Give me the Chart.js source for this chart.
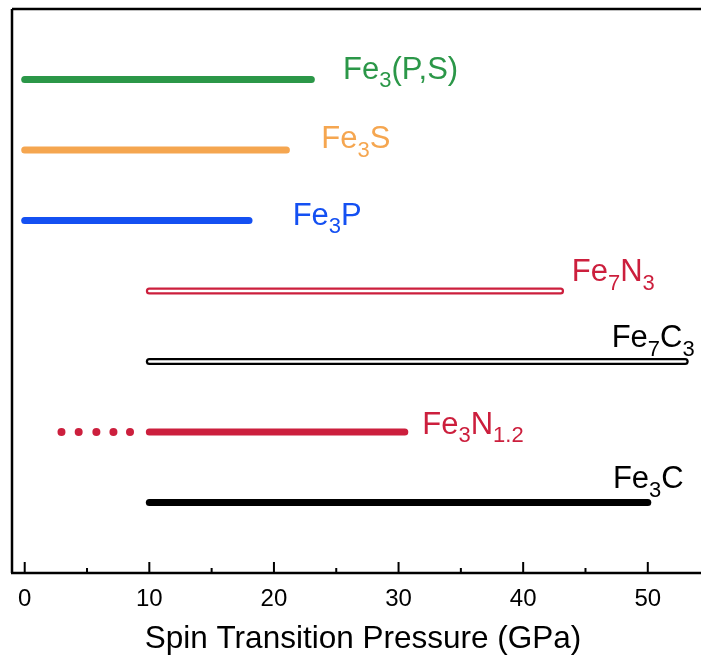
<!DOCTYPE html>
<html>
<head>
<meta charset="utf-8">
<script src="https://cdn.jsdelivr.net/npm/chart.js@4/dist/chart.umd.min.js"></script>
<style>
  html, body { margin: 0; padding: 0; background: #fff; overflow: hidden; }
  #spinChart { display: block; }
</style>
</head>
<body>
<canvas id="spinChart" width="701" height="655"></canvas>
<script>
// Daten - von unten nach oben (y = 1 .. 7)
const categories = ['Fe3C', 'Fe3N1.2', 'Fe7C3', 'Fe7N3', 'Fe3P', 'Fe3S', 'Fe3(P,S)'];
const startP = [10, 10, 10, 10, 0, 0, 0];
const endP = [50, 30.5, 53, 43, 18, 21, 23];
// gepunktete Verlängerung von Fe3N1.2
const dottedP = [2.95, 4.33, 5.75, 7.12, 8.45];
const xTicks = [0, 10, 20, 30, 40, 50];
const xMinorTicks = [5, 15, 25, 35, 45];

// Beschriftungen: Textteile [text, tiefgestellt]
const labelParts = [
    [['Fe', 0], ['3', 1], ['C', 0]],
    [['Fe', 0], ['3', 1], ['N', 0], ['1.2', 1]],
    [['Fe', 0], ['7', 1], ['C', 0], ['3', 1]],
    [['Fe', 0], ['7', 1], ['N', 0], ['3', 1]],
    [['Fe', 0], ['3', 1], ['P', 0]],
    [['Fe', 0], ['3', 1], ['S', 0]],
    [['Fe', 0], ['3', 1], ['(P,S)', 0]]
];

// Stil
const colors = ['#000000', '#cc1f3d', '#000000', '#cc1f3d', '#1450f2', '#f5a650', '#2b9748'];
const hollow = [false, false, true, true, false, false, false];
const labelX = [47.2, 31.9, 47.1, 43.9, 21.5, 23.8, 25.55];   // GPa
const labelDy = [-14.4, 1.7, -14.5, -10, 4, -1.6, -1];        // px, Grundlinie relativ zum Balken
const FONT = '"Liberation Sans", Arial, sans-serif';

const datasets = [];
categories.forEach(function(name, i) {
    const pts = [{ x: startP[i], y: i + 1 }, { x: endP[i], y: i + 1 }];
    datasets.push({
        label: name,
        data: pts,
        showLine: true,
        borderColor: colors[i],
        borderWidth: 7,
        borderCapStyle: 'round',
        pointRadius: 0,
        clip: false,
        order: 1
    });
    if (hollow[i]) {
        datasets.push({
            label: name + ' inner',
            data: pts,
            showLine: true,
            borderColor: '#ffffff',
            borderWidth: 2.5,
            borderCapStyle: 'round',
            pointRadius: 0,
            clip: false,
            order: 0
        });
    }
});
datasets.push({
    label: 'Fe3N1.2 dotted',
    data: dottedP.map(function(v) { return { x: v, y: 2 }; }),
    showLine: false,
    pointRadius: 4,
    pointBackgroundColor: colors[1],
    pointBorderWidth: 0,
    clip: false,
    order: 1
});

// Rahmen, Achsenstriche und Texte
const decorPlugin = {
    id: 'decor',
    afterDraw: function(chart) {
        const ctx = chart.ctx;
        const xs = chart.scales.x;
        const ys = chart.scales.y;
        const a = chart.chartArea;
        ctx.save();
        ctx.strokeStyle = '#000';
        ctx.lineWidth = 2.5;
        ctx.beginPath();
        ctx.moveTo(a.left, a.top);
        ctx.lineTo(chart.width + 5, a.top);
        ctx.moveTo(a.left, a.top);
        ctx.lineTo(a.left, a.bottom);
        ctx.moveTo(a.left - 1, a.bottom);
        ctx.lineTo(chart.width + 5, a.bottom);
        ctx.stroke();

        ctx.lineWidth = 2;
        ctx.beginPath();
        xTicks.forEach(function(v) {
            const px = xs.getPixelForValue(v);
            ctx.moveTo(px, a.bottom);
            ctx.lineTo(px, a.bottom - 11);
        });
        xMinorTicks.forEach(function(v) {
            const px = xs.getPixelForValue(v);
            ctx.moveTo(px, a.bottom);
            ctx.lineTo(px, a.bottom - 5);
        });
        ctx.stroke();

        ctx.fillStyle = '#000';
        ctx.textAlign = 'center';
        ctx.textBaseline = 'alphabetic';
        ctx.font = '24px ' + FONT;
        xTicks.forEach(function(v) {
            ctx.fillText(String(v), xs.getPixelForValue(v), 606);
        });
        ctx.font = '31.5px ' + FONT;
        ctx.fillText('Spin Transition Pressure (GPa)', 363, 648);

        ctx.textAlign = 'left';
        labelParts.forEach(function(parts, i) {
            let x = xs.getPixelForValue(labelX[i]);
            const base = ys.getPixelForValue(i + 1) + labelDy[i];
            ctx.fillStyle = colors[i];
            parts.forEach(function(p) {
                ctx.font = (p[1] ? '22px ' : '31px ') + FONT;
                ctx.fillText(p[0], x, p[1] ? base + 8.5 : base);
                x += ctx.measureText(p[0]).width;
            });
        });
        ctx.restore();
    }
};

document.addEventListener('DOMContentLoaded', function() {
    const ctx = document.getElementById('spinChart').getContext('2d');
    new Chart(ctx, {
        type: 'scatter',
        data: { datasets: datasets },
        options: {
            responsive: false,
            animation: false,
            layout: { autoPadding: false, padding: { left: 12, top: 9, right: 0, bottom: 82 } },
            scales: {
                x: { type: 'linear', min: -1.02, max: 54.27, display: false },
                y: { type: 'linear', min: 0, max: 8, display: false }
            },
            plugins: {
                legend: { display: false },
                tooltip: { enabled: false }
            }
        },
        plugins: [decorPlugin]
    });
});
</script>
</body>
</html>
